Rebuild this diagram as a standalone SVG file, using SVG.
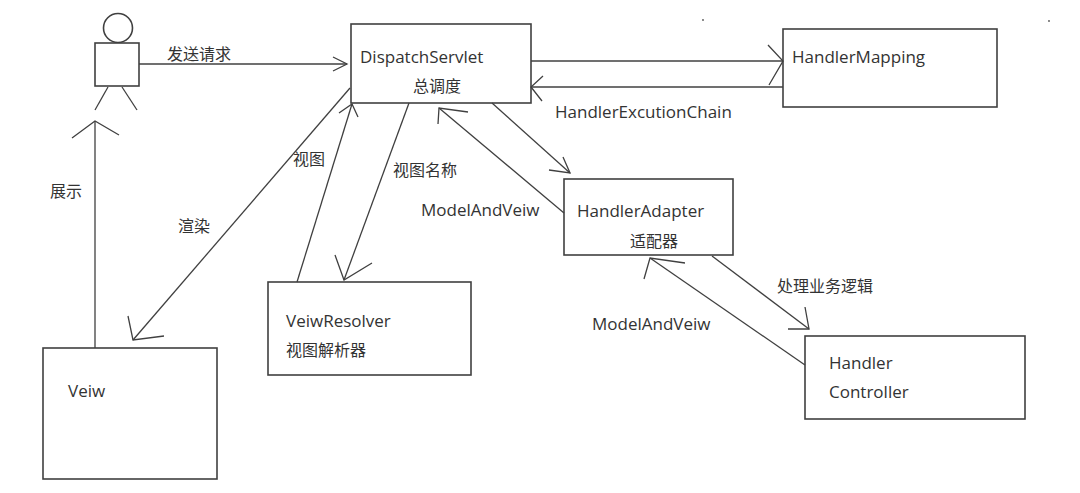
<svg xmlns="http://www.w3.org/2000/svg" width="1080" height="493" viewBox="0 0 1080 493">
<style>
.box{fill:#fff;stroke:#404040;stroke-width:1.6}
.ln{fill:none;stroke:#404040;stroke-width:1.3}
.head{fill:none;stroke:#404040;stroke-width:1.3}
.t{font-family:"Open Sans","Liberation Sans",sans-serif;font-size:17px;fill:#333}
.c{font-family:"Noto Sans CJK SC",sans-serif;font-size:16px;fill:#333}
</style>
<rect width="1080" height="493" fill="#fff"/>
<g id="specks" fill="#555"><circle cx="703" cy="20" r="0.9"/><circle cx="1049" cy="21" r="0.9"/></g>
<g id="actor">
<circle class="box" cx="118" cy="28" r="14.5"/>
<rect class="box" x="95" y="43" width="44" height="43"/>
<line class="ln" x1="108" y1="87" x2="95" y2="110"/>
<line class="ln" x1="122" y1="87" x2="137" y2="110"/>
</g>
<g id="dispatchServlet">
<rect class="box" x="351" y="24" width="180" height="79"/>
<text class="t" x="360" y="63">DispatchServlet</text>
<text class="c" x="413" y="92">总调度</text>
</g>
<g id="handlerMapping">
<rect class="box" x="783" y="29" width="214" height="78"/>
<text class="t" x="792" y="63">HandlerMapping</text>
</g>
<g id="handlerAdapter">
<rect class="box" x="564" y="179" width="169" height="76"/>
<text class="t" x="577" y="217">HandlerAdapter</text>
<text class="c" x="630" y="247">适配器</text>
</g>
<g id="viewResolver">
<rect class="box" x="268" y="282" width="203" height="93"/>
<text class="t" x="286" y="327">VeiwResolver</text>
<text class="c" x="286" y="356">视图解析器</text>
</g>
<g id="view">
<rect class="box" x="43" y="348" width="174" height="131"/>
<text class="t" x="68" y="397">Veiw</text>
</g>
<g id="handler">
<rect class="box" x="805" y="336" width="220" height="83"/>
<text class="t" x="829" y="369">Handler</text>
<text class="t" x="829" y="398">Controller</text>
</g>
<g id="connectors">
<line class="ln" x1="139" y1="64" x2="347" y2="64"/>
<polyline class="head" points="333,57 347,64 333,71"/>
<text class="c" x="167" y="60">发送请求</text>

<line class="ln" x1="531" y1="61" x2="783" y2="61"/>
<polyline class="head" points="768,45 783,61 769,85"/>

<line class="ln" x1="783" y1="87" x2="531" y2="87"/>
<polyline class="head" points="543,76 531,87 542,101"/>
<text class="t" x="555" y="118">HandlerExcutionChain</text>

<line class="ln" x1="350" y1="88" x2="133" y2="340"/>
<polyline class="head" points="128,316 133,340 164,336"/>
<text class="c" x="178" y="232">渲染</text>

<line class="ln" x1="297" y1="282" x2="352" y2="104"/>
<polyline class="head" points="339,113 352,104 358,117"/>
<text class="c" x="293" y="165">视图</text>

<line class="ln" x1="409" y1="103" x2="344" y2="280"/>
<polyline class="head" points="335,255 344,280 372,263"/>
<text class="c" x="393" y="176">视图名称</text>

<line class="ln" x1="492" y1="103" x2="570" y2="173"/>
<polyline class="head" points="563,157 570,173 549,170"/>

<line class="ln" x1="564" y1="213" x2="439" y2="108"/>
<polyline class="head" points="438,124 439,108 468,112"/>
<text class="t" x="421" y="216">ModelAndVeiw</text>

<line class="ln" x1="712" y1="256" x2="809" y2="329"/>
<polyline class="head" points="805,307 809,329 788,329"/>
<text class="c" x="777" y="292">处理业务逻辑</text>

<line class="ln" x1="805" y1="365" x2="650" y2="258"/>
<polyline class="head" points="644,279 650,258 685,263"/>
<text class="t" x="592" y="330">ModelAndVeiw</text>

<line class="ln" x1="95" y1="348" x2="95" y2="121"/>
<polyline class="head" points="72,138 95,121 119,135"/>
<text class="c" x="50" y="197">展示</text>
</g>
</svg>
